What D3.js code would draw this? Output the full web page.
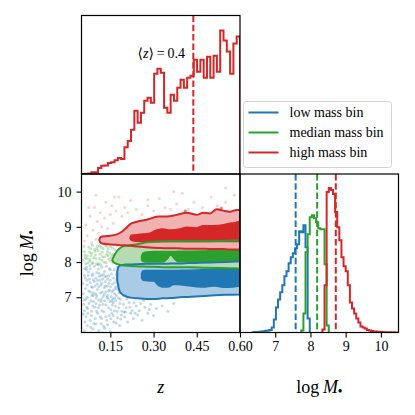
<!DOCTYPE html>
<html>
<head>
<meta charset="utf-8">
<script src="https://cdn.jsdelivr.net/npm/d3@7"></script>
<style>
  body { margin: 0; background: #fff; }
  svg, text { font-family: "Liberation Serif", "Times New Roman", "DejaVu Serif", serif; }
  text { fill: #000; }
</style>
</head>
<body>
<div id="chart"></div>
<script>
(function cornerPlot(){

  // ---- values ----
  var zDomain = [0.05, 0.6];
  var massDomain = [6, 10.5];
  var zTicks = [0.15, 0.30, 0.45, 0.60];
  var massTicks = [7, 8, 9, 10];

  // redshift histogram (high mass bin), 48 bins over zDomain
  var zCounts = [0, 0.3, 0.5, 1.7, 1.7, 6, 8.3, 8.5, 11, 11.7, 13.7, 16, 15, 26.7, 33, 44,
                 63, 51, 61, 73, 76, 71, 100, 105, 101, 66, 61, 79, 73, 86, 94, 86,
                 96, 98, 114, 102, 114, 96, 117, 96, 118, 102, 143, 133, 122, 100, 130, 137];
  var zMean = 0.438;
  var zLabel = '0.4';

  // mass histograms, bins of 0.06 dex
  var massBinWidth = 0.06;
  var lowStart = 6.36;
  var lowCounts = [0.3, 0.5, 0.5, 0.8, 1, 1.3, 1.7, 2, 2.5, 5, 13, 25, 33, 40, 47, 56,
                   61, 69, 75, 79, 84, 88, 101, 100, 107, 85, 14];
  var medStart = 7.74;
  var medCounts = [2, 19, 80, 98, 115, 117, 114, 110, 104, 103, 103, 68, 7];
  var highStart = 8.34;
  var highCounts = [3, 47, 140, 144, 142, 138, 120, 105, 92, 75, 66, 61, 47, 30, 24, 19,
                    14, 10, 6, 5, 4, 2.5, 2, 1.5, 1, 1, 0.7, 0.5, 0.5, 0.3, 0.3, 0.2,
                    0.2, 0.2, 0.1, 0.1];
  var medians = [7.58, 8.19, 8.72];

  var names = ['low mass bin', 'median mass bin', 'high mass bin'];
  var colors = ['#1f77b4', '#2ca02c', '#d62728'];
  var lightColors = ['#a9cbe5', '#b4dcb0', '#f2b2b2'];

  // contour regions: [z, lower logM, upper logM]
  var lowOuter = [[0.174,7.48,7.74],[0.178,7.30,7.86],[0.183,7.16,7.90],[0.192,7.08,7.92],
                  [0.203,7.03,7.93],[0.22,6.99,7.93],[0.245,6.97,7.94],[0.275,6.95,7.95],
                  [0.30,6.95,7.95],[0.33,6.97,7.95],[0.36,6.98,7.96],[0.39,7.00,7.96],
                  [0.42,7.01,7.97],[0.46,7.03,7.98],[0.50,7.05,7.99],[0.55,7.07,8.00],[0.60,7.08,8.02]];
  var lowInner = [[0.256,7.55,7.68],[0.262,7.47,7.77],[0.28,7.45,7.78],[0.30,7.44,7.78],
                  [0.315,7.32,7.78],[0.335,7.27,7.78],[0.355,7.28,7.78],[0.37,7.34,7.78],
                  [0.40,7.33,7.79],[0.43,7.30,7.79],[0.47,7.27,7.80],[0.51,7.30,7.80],
                  [0.55,7.26,7.80],[0.60,7.30,7.81]];
  var medOuter = [[0.157,8.06,8.07],[0.162,7.99,8.16],[0.172,7.95,8.30],[0.183,7.92,8.39],
                  [0.20,7.90,8.46],[0.24,7.88,8.50],[0.276,7.87,8.56],[0.32,7.86,8.58],
                  [0.36,7.85,8.59],[0.42,7.85,8.59],[0.47,7.84,8.59],[0.53,7.83,8.60],[0.60,7.82,8.62]];
  var medInner = [[0.256,8.06,8.18],[0.262,8.00,8.27],[0.272,7.98,8.30],[0.30,7.98,8.32],
                  [0.335,7.99,8.32],[0.35,8.08,8.32],[0.36,8.17,8.32],[0.37,8.08,8.32],
                  [0.385,7.99,8.33],[0.43,7.99,8.33],[0.50,8.00,8.34],[0.60,8.02,8.35]];
  var highOuter = [[0.112,8.62,8.64],[0.116,8.55,8.71],[0.125,8.52,8.73],[0.15,8.50,8.75],
                   [0.17,8.49,8.78],[0.19,8.48,8.86],[0.205,8.47,8.97],[0.222,8.46,9.09],
                   [0.245,8.44,9.15],[0.276,8.42,9.20],[0.316,8.40,9.29],[0.345,8.39,9.29],
                   [0.38,8.39,9.34],[0.415,8.38,9.40],[0.45,8.38,9.34],[0.472,8.38,9.40],
                   [0.496,8.37,9.38],[0.519,8.37,9.50],[0.542,8.37,9.46],[0.565,8.36,9.43],
                   [0.588,8.36,9.48],[0.60,8.36,9.48]];
  var highInner = [[0.216,8.66,8.70],[0.222,8.60,8.78],[0.241,8.57,8.80],[0.287,8.56,8.84],
                   [0.304,8.56,8.91],[0.333,8.56,8.96],[0.356,8.56,8.93],[0.391,8.56,8.96],
                   [0.414,8.56,9.01],[0.449,8.56,8.99],[0.472,8.56,9.05],[0.507,8.56,9.05],
                   [0.542,8.56,9.08],[0.565,8.56,9.12],[0.588,8.56,9.15],[0.60,8.56,9.19]];

  // scattered galaxies [z, logM]
  var lowPoints = [[0.06,7.62],[0.07,7.35],[0.08,7.81],[0.09,7.12],[0.10,7.55],[0.11,6.92],[0.12,7.40],
    [0.13,7.73],[0.14,7.05],[0.15,7.48],[0.16,6.85],[0.17,7.30],[0.18,6.70],[0.065,6.95],[0.075,7.18],
    [0.085,6.60],[0.095,7.88],[0.105,7.22],[0.115,6.45],[0.125,7.02],[0.135,6.78],[0.145,7.62],
    [0.155,6.55],[0.165,7.10],[0.175,6.42],[0.185,6.95],[0.19,6.60],[0.055,7.40],[0.058,6.80],
    [0.062,6.30],[0.068,7.85],[0.072,6.55],[0.078,7.52],[0.082,6.15],[0.088,7.28],[0.092,6.88],
    [0.098,6.40],[0.102,7.70],[0.108,6.70],[0.112,7.60],[0.118,6.25],[0.122,7.15],[0.128,6.58],
    [0.132,7.45],[0.138,6.35],[0.142,6.95],[0.148,7.20],[0.152,6.65],[0.158,7.38],[0.162,6.30],
    [0.168,6.75],[0.172,7.50],[0.178,6.98],[0.182,6.20],[0.188,6.50],[0.195,6.80],[0.20,6.45],
    [0.205,6.70],[0.21,6.30],[0.215,6.85],[0.22,6.55],[0.225,6.62],[0.23,6.40],[0.24,6.75],
    [0.245,6.50],[0.25,6.62],[0.26,6.35],[0.27,6.72],[0.28,6.55],[0.29,6.80],[0.30,6.48],
    [0.31,6.68],[0.33,6.75],[0.35,6.60],[0.37,6.82],[0.06,6.05],[0.07,6.20],[0.09,6.10],
    [0.11,6.05],[0.13,6.12],[0.15,6.02],[0.07,7.00],[0.08,7.42],[0.09,7.66],[0.10,6.82],
    [0.11,7.30],[0.12,7.85],[0.13,6.90],[0.14,7.32],[0.15,7.78],[0.16,7.20],[0.17,7.65],
    [0.18,7.40],[0.056,7.10],[0.063,7.55],[0.071,6.68],[0.079,7.90],[0.086,7.05],[0.094,7.45],
    [0.101,6.98],[0.109,7.80],[0.116,7.12],[0.124,6.80],[0.131,7.58],[0.139,7.00],[0.146,6.48],
    [0.153,7.02],[0.161,7.55],[0.169,6.90],[0.176,7.22],[0.184,7.60],[0.066,6.45],[0.074,7.72],
    [0.083,6.90],[0.091,7.50],[0.099,7.10],[0.106,6.55],[0.114,7.48],[0.121,6.62],[0.129,7.28],
    [0.136,7.88],[0.144,6.70],[0.151,7.30],[0.159,6.95],[0.166,7.42],[0.174,6.60],[0.06,6.62],
    [0.08,6.35],[0.10,6.25],[0.12,6.40],[0.14,6.22],[0.16,6.48],[0.064,7.25],[0.076,6.82],
    [0.087,7.62],[0.096,6.72],[0.104,7.38],[0.113,6.78],[0.126,7.65],[0.134,7.15],[0.147,7.82],
    [0.157,6.78],[0.171,7.05],[0.183,6.82],[0.19,7.30],[0.192,7.60],[0.057,6.52],[0.067,7.78],
    [0.084,7.30],[0.093,6.25],[0.107,7.92],[0.119,6.95],[0.127,6.18],[0.141,7.52],[0.156,7.15],
    [0.164,6.62],[0.173,7.85],[0.186,6.38],[0.198,6.58],[0.208,6.95],[0.232,6.85],[0.265,6.90],
    [0.061,7.82],[0.069,7.48],[0.081,7.15],[0.089,6.75],[0.097,7.32],[0.103,7.05],[0.111,7.68],
    [0.117,7.35],[0.123,7.52],[0.133,7.32],[0.137,7.60],[0.143,7.18],[0.149,6.88],[0.154,7.66],
    [0.163,7.78],[0.167,7.25],[0.177,7.70],[0.181,7.12],[0.059,6.92],[0.073,7.62],[0.091,7.05],
    [0.105,7.48],[0.119,7.62],[0.129,7.08],[0.145,7.40],[0.155,6.90],[0.165,6.98],[0.179,7.52],
    [0.068,6.72],[0.084,6.48],[0.102,6.60],[0.118,6.88],[0.134,6.45],[0.152,6.40],[0.17,6.28],
    [0.188,7.15],[0.196,7.05],[0.202,6.58],[0.218,6.72],[0.236,6.55],[0.255,6.82],[0.285,6.65]];
  var medPoints = [[0.055,8.05],[0.06,8.30],[0.065,7.95],[0.07,8.18],[0.075,8.42],[0.08,8.02],
    [0.085,8.25],[0.09,7.98],[0.095,8.36],[0.10,8.10],[0.105,8.45],[0.11,7.96],[0.115,8.22],
    [0.12,8.05],[0.125,8.38],[0.13,8.15],[0.135,7.99],[0.14,8.30],[0.145,8.08],[0.15,8.44],
    [0.155,8.20],[0.16,7.97],[0.165,8.35],[0.17,8.12],[0.175,8.48],[0.18,8.28],[0.19,8.40],
    [0.058,8.45],[0.068,8.10],[0.078,8.28],[0.088,8.48],[0.098,8.20],[0.108,8.32],[0.118,8.42],
    [0.128,8.00],[0.138,8.45],[0.148,8.26],[0.062,8.20],[0.072,7.98],[0.082,8.38],[0.092,8.12],
    [0.102,7.95],[0.112,8.10],[0.122,8.28],[0.132,8.48],[0.142,8.18],[0.152,8.02],[0.162,8.22],
    [0.185,8.10],[0.20,8.05],[0.21,8.15],[0.23,8.45],[0.25,8.35],[0.077,8.08],[0.097,8.30],
    [0.117,7.92],[0.137,8.22],[0.157,8.40],[0.063,8.12],[0.083,8.18],[0.103,8.38],[0.123,8.15],
    [0.143,8.38],[0.153,8.12],[0.087,7.96],[0.113,8.46]];
  var highPoints = [[0.06,8.60],[0.065,9.05],[0.07,8.75],[0.08,9.30],[0.085,8.55],[0.09,8.90],
    [0.095,9.55],[0.10,8.65],[0.105,9.15],[0.11,8.82],[0.115,9.40],[0.12,9.00],[0.13,9.25],
    [0.135,9.70],[0.14,8.95],[0.15,9.35],[0.155,9.60],[0.16,9.10],[0.17,9.45],[0.18,9.85],
    [0.19,9.30],[0.20,9.55],[0.21,9.40],[0.22,9.75],[0.24,9.50],[0.26,9.35],[0.28,9.60],
    [0.30,9.45],[0.32,9.80],[0.34,9.55],[0.36,9.50],[0.38,9.65],[0.40,9.95],[0.42,9.50],
    [0.44,9.70],[0.47,9.55],[0.50,9.85],[0.52,9.60],[0.55,9.70],[0.58,9.90],[0.075,9.55],
    [0.125,8.60],[0.165,9.85],[0.10,9.90],[0.28,9.77],[0.37,10.0],[0.55,10.1],
    [0.41,9.45],[0.41,9.45],[0.41,9.46],[0.41,9.44],[0.535,9.53],[0.535,9.53],[0.536,9.54],[0.535,9.52]];

  // ---- layout ----
  var cell = 158.5, left = 81.5, top = 15.5;
  var font = 14;

  var svg = d3.select('#chart').append('svg')
      .attr('width', 415)
      .attr('height', 415);

  var zX = d3.scaleLinear().domain(zDomain).range([left, left + cell]);
  var mY = d3.scaleLinear().domain(massDomain).range([top + 2*cell, top + cell]);
  var mX = d3.scaleLinear().domain(massDomain).range([left + cell, left + 2*cell]);
  var zCountY = d3.scaleLinear().domain([0, 158]).range([top + cell, top]);
  var mCountY = d3.scaleLinear().domain([0, 158]).range([top + 2*cell, top + cell]);

  var defs = svg.append('defs');
  function clip(id, x, y){
    defs.append('clipPath').attr('id', id).append('rect')
      .attr('x', x).attr('y', y).attr('width', cell).attr('height', cell);
    return 'url(#' + id + ')';
  }
  var clipTop = clip('cTop', left, top),
      clipScatter = clip('cSc', left, top + cell),
      clipRight = clip('cRight', left + cell, top + cell);

  function stepPath(start, width, counts, xs, ys){
    var pts = [[start, 0]];
    counts.forEach(function(c, i){ pts.push([start + i*width, c]); });
    pts.push([start + counts.length*width, 0]);
    return d3.line()
      .x(function(d){ return xs(d[0]); })
      .y(function(d){ return ys(d[1]); })
      .curve(d3.curveStepAfter)(pts);
  }

  // ---- top: redshift histogram ----
  var gTop = svg.append('g').attr('clip-path', clipTop);
  gTop.append('path')
      .attr('d', stepPath(zDomain[0], (zDomain[1] - zDomain[0]) / zCounts.length, zCounts, zX, zCountY))
      .attr('fill', 'none')
      .attr('stroke', colors[2])
      .attr('stroke-width', 2);
  gTop.append('line')
      .attr('x1', zX(zMean)).attr('x2', zX(zMean))
      .attr('y1', top).attr('y2', top + cell)
      .attr('stroke', colors[2])
      .attr('stroke-width', 2)
      .attr('stroke-dasharray', '6.5,2.8');

  var ann = svg.append('text')
      .attr('x', 185).attr('y', 57.5)
      .attr('text-anchor', 'end')
      .style('font-size', font + 'px');
  ann.append('tspan').text('\u27E8');
  ann.append('tspan').style('font-style', 'italic').text('z');
  ann.append('tspan').text('\u27E9\u2009=\u2009' + zLabel);

  // ---- bottom left: z vs mass ----
  var gSc = svg.append('g').attr('clip-path', clipScatter);
  [lowPoints, medPoints, highPoints].forEach(function(pts, i){
    gSc.append('g').selectAll('circle')
      .data(pts)
      .enter()
      .append('circle')
      .attr('cx', function(d){ return zX(d[0]); })
      .attr('cy', function(d){ return mY(d[1]); })
      .attr('r', 1.5)
      .attr('fill', colors[i])
      .attr('fill-opacity', i === 2 ? 0.2 : 0.28);
  });

  var area = d3.area()
      .x(function(d){ return zX(d[0]); })
      .y0(function(d){ return mY(d[1]); })
      .y1(function(d){ return mY(d[2]); })
      .curve(d3.curveMonotoneX);

  var regions = [[lowOuter, lowInner], [medOuter, medInner], [highOuter, highInner]];
  regions.forEach(function(r, i){
    gSc.append('path').attr('d', area(r[0])).attr('fill', lightColors[i]);
    gSc.append('path').attr('d', area(r[1])).attr('fill', colors[i]);
  });
  regions.forEach(function(r, i){
    gSc.append('path').attr('d', area(r[0]))
      .attr('fill', 'none')
      .attr('stroke', colors[i])
      .attr('stroke-width', 2);
  });

  // ---- bottom right: mass histograms ----
  var gRight = svg.append('g').attr('clip-path', clipRight);
  [[lowStart, lowCounts], [medStart, medCounts], [highStart, highCounts]].forEach(function(h, i){
    gRight.append('path')
      .attr('d', stepPath(h[0], massBinWidth, h[1], mX, mCountY))
      .attr('fill', 'none')
      .attr('stroke', colors[i])
      .attr('stroke-width', 2);
  });
  gRight.selectAll('.median')
    .data(medians)
    .enter()
    .append('line')
    .attr('x1', function(d){ return mX(d); })
    .attr('x2', function(d){ return mX(d); })
    .attr('y1', top + cell).attr('y2', top + 2*cell)
    .attr('stroke', function(d, i){ return colors[i]; })
    .attr('stroke-width', 2)
    .attr('stroke-dasharray', '6.5,2.8');

  // ---- axes ----
  function styleAxis(g){
    g.attr('font-family', null).attr('font-size', null);
    g.select('.domain').remove();
    g.selectAll('line').attr('stroke', '#000').attr('stroke-width', 1.1);
    g.selectAll('text')
      .style('font-size', font + 'px')
      .attr('fill', '#000');
  }
  svg.append('g')
      .attr('transform', 'translate(0,' + (top + 2*cell) + ')')
      .call(d3.axisBottom(zX).tickValues(zTicks).tickFormat(d3.format('.2f')).tickSize(5).tickPadding(4))
      .call(styleAxis);
  svg.append('g')
      .attr('transform', 'translate(0,' + (top + 2*cell) + ')')
      .call(d3.axisBottom(mX).tickValues(massTicks).tickFormat(d3.format('d')).tickSize(5).tickPadding(4))
      .call(styleAxis);
  svg.append('g')
      .attr('transform', 'translate(' + left + ',0)')
      .call(d3.axisLeft(mY).tickValues(massTicks).tickFormat(d3.format('d')).tickSize(5).tickPadding(5))
      .call(styleAxis);

  // frames
  [[left, top], [left, top + cell], [left + cell, top + cell]].forEach(function(p){
    svg.append('rect')
      .attr('x', p[0]).attr('y', p[1])
      .attr('width', cell).attr('height', cell)
      .attr('fill', 'none')
      .attr('stroke', '#000')
      .attr('stroke-width', 1.2);
  });

  // axis labels
  function massLabel(sel){
    sel.append('tspan').text('log\u2009');
    sel.append('tspan').style('font-style', 'italic').text('M');
    sel.append('tspan').attr('dy', 2).style('font-size', '12px').style('font-weight', 'bold').text('\u2022');
  }
  svg.append('text')
      .attr('x', zX((zDomain[0] + zDomain[1]) / 2)).attr('y', 393)
      .attr('text-anchor', 'middle')
      .style('font-size', '18px')
      .style('font-style', 'italic')
      .text('z');
  svg.append('text')
      .attr('x', mX((massDomain[0] + massDomain[1]) / 2)).attr('y', 393)
      .attr('text-anchor', 'middle')
      .style('font-size', '18px')
      .call(massLabel);
  svg.append('text')
      .attr('transform', 'translate(33,' + (top + 1.5*cell) + ') rotate(-90)')
      .attr('text-anchor', 'middle')
      .style('font-size', '18px')
      .call(massLabel);

  // legend
  var lg = svg.append('g').attr('transform', 'translate(243.5,101.5)');
  lg.append('rect')
      .attr('width', 148).attr('height', 66).attr('rx', 3)
      .attr('fill', '#fff').attr('stroke', '#d3d3d3');
  names.forEach(function(n, i){
    var y = 11 + i*20;
    lg.append('line')
      .attr('x1', 5).attr('x2', 35).attr('y1', y).attr('y2', y)
      .attr('stroke', colors[i]).attr('stroke-width', 2);
    lg.append('text')
      .attr('x', 46).attr('y', y).attr('dy', '0.33em')
      .style('font-size', font + 'px')
      .text(n);
  });

})();
</script>
</body>
</html>
